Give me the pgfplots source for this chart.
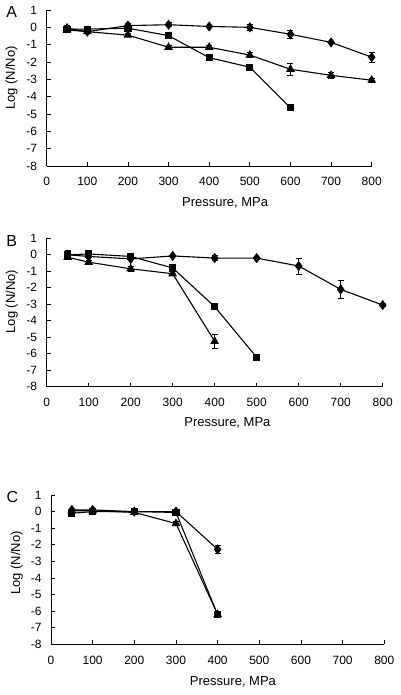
\documentclass[border=0pt]{standalone}
\usepackage{fontspec}
\setmainfont{Liberation Sans}
\usepackage{pgfplots}
\pgfplotsset{compat=1.18}
\begin{document}
\begin{tikzpicture}
\path[use as bounding box] (0pt,0pt) rectangle (400pt,695pt);
\pgfplotsset{
 panel/.style={
  scale only axis, anchor=south west,
  xmin=0,xmax=800, ymin=-8,ymax=1,
  axis lines*=left, axis line style={-, line width=0.9pt},
  xtick={0,100,...,800}, ytick={-8,-7,...,1},
  xticklabels={0,100,200,300,400,500,600,700,800},
  yticklabels={-8,-7,-6,-5,-4,-3,-2,-1,0,1},
  tick align=inside, major tick length=4pt, tick style={black, line width=0.8pt},
  ticklabel style={font=\fontsize{12}{14}\selectfont},
  xticklabel shift=8pt, yticklabel shift=6pt,
  label style={font=\fontsize{13}{15}\selectfont},
  xlabel={Pressure, MPa}, ylabel={Log (N/No)},
  clip=false,
 },
 ser/.style={black, line width=1.1pt, mark options={solid},
  error bars/y dir=both, error bars/y explicit,
  error bars/error mark options={rotate=90, mark size=3pt, line width=0.8pt},
  error bars/error bar style={line width=0.8pt}},
 dia/.style={ser, mark=diamond*, mark size=4.2pt},
 sq/.style={ser, mark=square*, mark size=3pt},
 tri/.style={ser, mark=triangle*, mark size=4pt},
}
% ---------------- Panel A
\begin{axis}[panel, at={(46.7pt,529pt)}, width=325pt, height=156pt,
  xlabel style={at={(axis description cs:0.549,-0.237)}, anchor=center},
  ylabel style={at={(axis description cs:-0.108,0.564)}, anchor=center}]
\addplot[dia] table[x=x,y=y,y error=e] {
x y e
50 -0.05 0.15
100 -0.25 0.1
200 0.1 0.12
300 0.15 0.12
400 0.05 0.05
500 0.0 0.15
600 -0.4 0.25
700 -0.87 0.05
800 -1.72 0.28
};
\addplot[sq] table[x=x,y=y,y error=e] {
x y e
50 -0.1 0.15
100 -0.1 0.15
200 -0.05 0.1
300 -0.48 0.08
400 -1.75 0.08
500 -2.3 0.08
600 -4.65 0.12
};
\addplot[tri] table[x=x,y=y,y error=e] {
x y e
50 -0.15 0.1
100 -0.25 0.05
200 -0.45 0.1
300 -1.15 0.12
400 -1.15 0.1
500 -1.6 0.15
600 -2.42 0.35
700 -2.77 0.15
800 -3.05 0.12
};
\end{axis}
% ---------------- Panel B
\begin{axis}[panel, at={(46.7pt,308.3pt)}, width=336pt, height=148.4pt,
  xlabel style={at={(axis description cs:0.538,-0.245)}, anchor=center},
  ylabel style={at={(axis description cs:-0.104,0.573)}, anchor=center}]
\addplot[dia] table[x=x,y=y,y error=e] {
x y e
50 0.0 0.25
100 -0.1 0.05
200 -0.25 0.05
300 -0.07 0.05
400 -0.2 0.15
500 -0.2 0.05
600 -0.68 0.48
700 -2.1 0.55
800 -3.05 0.08
};
\addplot[sq] table[x=x,y=y,y error=e] {
x y e
50 0.0 0.15
100 0.05 0.15
200 -0.1 0.15
300 -0.8 0.2
400 -3.15 0.12
500 -6.22 0.08
};
\addplot[tri] table[x=x,y=y,y error=e] {
x y e
50 -0.15 0.1
100 -0.45 0.1
200 -0.85 0.15
300 -1.15 0.12
400 -5.25 0.45
};
\end{axis}
% ---------------- Panel C
\begin{axis}[panel, at={(51pt,50.7pt)}, width=333.3pt, height=149.3pt,
  xlabel style={at={(axis description cs:0.546,-0.25)}, anchor=center},
  ylabel style={at={(axis description cs:-0.103,0.545)}, anchor=center}]
\addplot[dia] table[x=x,y=y,y error=e] {
x y e
50 0.1 0.05
100 0.1 0.05
200 0.0 0.05
300 0.0 0.1
400 -2.28 0.25
};
\addplot[sq] table[x=x,y=y,y error=e] {
x y e
50 -0.1 0.1
100 0.0 0.1
200 0.0 0.15
300 -0.05 0.1
400 -6.22 0.08
};
\addplot[tri] table[x=x,y=y,y error=e] {
x y e
50 0.05 0.05
100 0.05 0.05
200 -0.05 0.1
300 -0.72 0.12
400 -6.2 0.1
};
\end{axis}
\node[font=\fontsize{16}{18}\selectfont] at (11.7pt,682.5pt) {A};
\node[font=\fontsize{16}{18}\selectfont] at (11.7pt,454.2pt) {B};
\node[font=\fontsize{16}{18}\selectfont] at (12.5pt,198.3pt) {C};
\end{tikzpicture}
\end{document}
